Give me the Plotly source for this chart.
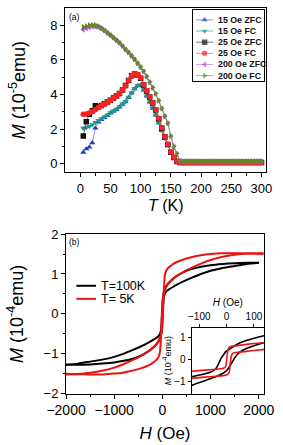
import plotly.graph_objects as go

# ---------------- Panel (a) data: M(T) curves ----------------
T = [5, 10, 15, 20, 25, 30, 35, 40, 45, 50, 55, 60, 65, 70, 75, 80, 85, 90, 95, 100,
     105, 110, 115, 120, 125, 130, 135, 140, 145, 150, 155, 160, 165, 170, 175, 180, 185, 190, 195, 200,
     205, 210, 215, 220, 225, 230, 235, 240, 245, 250, 255, 260, 265, 270, 275, 280, 285, 290, 295, 300]

M_15_ZFC = [0.65, 0.85, 0.95, 1.20, 2.05, 2.40, 2.55, 2.66, 2.78, 2.92, 3.02, 3.12, 3.27, 3.42, 3.57, 3.82, 4.07, 4.32, 4.50, 4.53,
            4.25, 3.90, 3.55, 3.20, 2.80, 2.35, 1.90, 1.45, 1.05, 0.70, 0.35, 0.15, 0.08, 0.08, 0.08, 0.08, 0.08, 0.08, 0.08, 0.08,
            0.08, 0.08, 0.08, 0.08, 0.08, 0.08, 0.08, 0.08, 0.08, 0.08, 0.08, 0.08, 0.08, 0.08, 0.08, 0.08, 0.08, 0.08, 0.08, 0.08]
M_15_FC = [2.05, 2.08, 2.15, 2.25, 2.38, 2.50, 2.60, 2.70, 2.82, 2.95, 3.05, 3.15, 3.30, 3.45, 3.60, 3.85, 4.10, 4.35, 4.52, 4.55,
           4.28, 3.92, 3.57, 3.22, 2.82, 2.37, 1.92, 1.47, 1.07, 0.72, 0.37, 0.16, 0.09, 0.09, 0.09, 0.09, 0.09, 0.09, 0.09, 0.09,
           0.09, 0.09, 0.09, 0.09, 0.09, 0.09, 0.09, 0.09, 0.09, 0.09, 0.09, 0.09, 0.09, 0.09, 0.09, 0.09, 0.09, 0.09, 0.09, 0.09]
M_25_ZFC = [1.60, 2.42, 2.85, 3.05, 3.35, 3.27, 3.36, 3.46, 3.56, 3.66, 3.79, 3.91, 4.06, 4.26, 4.51, 4.81, 5.08, 5.18, 5.13, 4.93,
            4.55, 4.20, 3.85, 3.50, 3.10, 2.60, 2.05, 1.55, 1.10, 0.65, 0.35, 0.12, 0.06, 0.06, 0.06, 0.06, 0.06, 0.06, 0.06, 0.06,
            0.06, 0.06, 0.06, 0.06, 0.06, 0.06, 0.06, 0.06, 0.06, 0.06, 0.06, 0.06, 0.06, 0.06, 0.06, 0.06, 0.06, 0.06, 0.06, 0.06]
M_25_FC = [2.85, 2.87, 2.92, 3.00, 3.12, 3.25, 3.35, 3.45, 3.55, 3.65, 3.78, 3.90, 4.05, 4.25, 4.50, 4.80, 5.08, 5.20, 5.15, 4.95,
           4.57, 4.22, 3.87, 3.52, 3.12, 2.62, 2.07, 1.57, 1.12, 0.67, 0.36, 0.13, 0.06, 0.06, 0.06, 0.06, 0.06, 0.06, 0.06, 0.06,
           0.06, 0.06, 0.06, 0.06, 0.06, 0.06, 0.06, 0.06, 0.06, 0.06, 0.06, 0.06, 0.06, 0.06, 0.06, 0.06, 0.06, 0.06, 0.06, 0.06]
M_200_ZFC = [7.75, 7.82, 7.88, 7.92, 7.92, 7.88, 7.80, 7.68, 7.54, 7.41, 7.26, 7.11, 6.96, 6.78, 6.58, 6.41, 6.21, 6.01, 5.78, 5.56,
             5.31, 5.01, 4.68, 4.36, 4.01, 3.61, 3.17, 2.72, 2.32, 1.55, 0.95, 0.55, 0.15, 0.12, 0.12, 0.12, 0.12, 0.12, 0.12, 0.12,
             0.12, 0.12, 0.12, 0.12, 0.12, 0.12, 0.12, 0.12, 0.12, 0.12, 0.12, 0.12, 0.12, 0.12, 0.12, 0.12, 0.12, 0.12, 0.12, 0.12]
M_200_FC = [7.90, 7.95, 8.00, 8.02, 8.00, 7.95, 7.85, 7.72, 7.58, 7.45, 7.30, 7.15, 7.00, 6.82, 6.62, 6.45, 6.25, 6.05, 5.82, 5.60,
            5.35, 5.05, 4.72, 4.40, 4.05, 3.65, 3.20, 2.75, 2.35, 1.60, 1.00, 0.58, 0.16, 0.13, 0.13, 0.13, 0.13, 0.13, 0.13, 0.13,
            0.13, 0.13, 0.13, 0.13, 0.13, 0.13, 0.13, 0.13, 0.13, 0.13, 0.13, 0.13, 0.13, 0.13, 0.13, 0.13, 0.13, 0.13, 0.13, 0.13]

series_names = ["15 Oe ZFC", "15 Oe FC", "25 Oe ZFC", "25 Oe FC", "200 Oe ZFC", "200 Oe FC"]
series_vals = [M_15_ZFC, M_15_FC, M_25_ZFC, M_25_FC, M_200_ZFC, M_200_FC]
series_cols = ["#1f3fc4", "#1e9a86", "#111111", "#ff2020", "#b04ee0", "#5f8a1c"]
series_line = ["rgba(90,110,230,0.7)", "rgba(40,160,140,0.7)", "rgba(60,60,60,0.7)",
               "rgba(255,90,90,0.7)", "rgba(190,110,235,0.7)", "rgba(110,150,50,0.7)"]
series_sym = ["triangle-up", "triangle-down", "square", "circle", "triangle-left", "triangle-right"]

# ---------------- Panel (b) data: M(H) loops ----------------
H_100_dn = [2000, 1750, 1500, 1250, 1000, 800, 600, 450, 300, 200, 120, 60, 30, 10, 0, -10, -20, -30, -50,
            -80, -120, -200, -300, -450, -600, -800, -1000, -1250, -1500, -1750, -2000]
M_100_dn = [1.28, 1.28, 1.27, 1.25, 1.22, 1.18, 1.12, 1.05, 0.95, 0.86, 0.76, 0.66, 0.55, 0.35, 0.15, -0.10, -0.30, -0.42, -0.50,
            -0.56, -0.60, -0.66, -0.73, -0.82, -0.90, -1.00, -1.08, -1.15, -1.20, -1.25, -1.28]
H_100_up = [-2000, -1750, -1500, -1250, -1000, -800, -600, -450, -300, -200, -120, -60, -30, -10, 0, 10, 20, 30, 50,
            80, 120, 200, 300, 450, 600, 800, 1000, 1250, 1500, 1750, 2000]
M_100_up = [-1.28, -1.28, -1.27, -1.25, -1.22, -1.18, -1.12, -1.05, -0.95, -0.86, -0.76, -0.66, -0.55, -0.35, -0.15, 0.10, 0.30, 0.42, 0.50,
            0.56, 0.60, 0.66, 0.73, 0.82, 0.90, 1.00, 1.08, 1.15, 1.20, 1.25, 1.28]

H_5_dn = [2100, 2000, 1750, 1500, 1250, 1000, 800, 600, 450, 300, 200, 120, 80, 50, 30, 15, 0, -15, -30,
          -60, -100, -200, -300, -450, -600, -800, -1000, -1250, -1500, -1750, -2000, -2100]
M_5_dn = [1.50, 1.505, 1.515, 1.52, 1.52, 1.50, 1.47, 1.42, 1.37, 1.30, 1.23, 1.15, 1.08, 0.95, 0.60, 0.10, -0.30, -0.45, -0.52,
          -0.62, -0.72, -0.85, -0.95, -1.06, -1.15, -1.26, -1.35, -1.43, -1.48, -1.51, -1.52, -1.52]
H_5_up = [-2100, -2000, -1750, -1500, -1250, -1000, -800, -600, -450, -300, -200, -120, -80, -50, -30, -15, 0, 15, 30,
          60, 100, 200, 300, 450, 600, 800, 1000, 1250, 1500, 1750, 2000, 2100]
M_5_up = [-1.50, -1.505, -1.515, -1.52, -1.52, -1.50, -1.47, -1.42, -1.37, -1.30, -1.23, -1.15, -1.08, -0.95, -0.60, -0.10, 0.30, 0.45, 0.52,
          0.62, 0.72, 0.85, 0.95, 1.06, 1.15, 1.26, 1.35, 1.43, 1.48, 1.51, 1.52, 1.52]

# inset (low-field detail)
Hi_100_dn = [140, 100, 67, 40, 24, 10, -3, -10, -20, -30, -41, -60, -90, -130]
Mi_100_dn = [1.11, 0.98, 0.86, 0.72, 0.59, 0.48, 0.37, 0.25, 0.07, -0.20, -0.44, -0.58, -0.68, -0.78]
Hi_100_up = [-130, -100, -63, -40, -20, 0, 8, 20, 29, 40, 51, 70, 89, 110, 140]
Mi_100_up = [-1.19, -1.05, -0.89, -0.78, -0.67, -0.50, -0.37, -0.12, 0.07, 0.25, 0.37, 0.50, 0.59, 0.68, 0.79]
Hi_5_dn = [140, 100, 60, 30, 15, 8, 3, 0, -3, -8, -15, -30, -60, -100, -130]
Mi_5_dn = [0.79, 0.74, 0.68, 0.63, 0.60, 0.55, 0.30, -0.05, -0.30, -0.37, -0.40, -0.43, -0.46, -0.50, -0.53]
Hi_5_up = [-130, -100, -60, -20, 0, 5, 10, 13, 16, 20, 24, 40, 67, 100, 140]
Mi_5_up = [-0.86, -0.82, -0.78, -0.74, -0.70, -0.66, -0.55, -0.20, 0.10, 0.25, 0.30, 0.34, 0.37, 0.42, 0.47]

loop_names = ["T=100K", "T= 5K"]
loop_cols = ["#000000", "#ee1111"]

FONT = "Arial, Liberation Sans, sans-serif"
W, H = 283, 445

def px(x):
    return x / W

def py(y):
    return 1 - y / H

fig = go.Figure()

# Panel (a) traces
for name, vals, col, lcol, sym in zip(series_names, series_vals, series_cols, series_line, series_sym):
    fig.add_trace(go.Scatter(x=T, y=vals, mode="lines+markers", name=name,
                             line=dict(color=lcol, width=1),
                             marker=dict(symbol=sym, size=5.5, color=col, line=dict(width=0)),
                             xaxis="x", yaxis="y", showlegend=False))

# Panel (a) legend drawn on its own small axes
for i, (name, col, lcol, sym) in enumerate(zip(series_names, series_cols, series_line, series_sym)):
    row = i + 1
    fig.add_trace(go.Scatter(x=[4, 13.5, 23], y=[row, row, row], mode="lines+markers",
                             line=dict(color=lcol, width=1),
                             marker=dict(symbol=sym, size=[0, 5.5, 0], color=col, line=dict(width=0)),
                             xaxis="x4", yaxis="y4", showlegend=False, hoverinfo="skip"))
    fig.add_annotation(x=26, y=row, xref="x4", yref="y4", text="<b>%s</b>" % name, showarrow=False,
                       xanchor="left", yanchor="middle", font=dict(family=FONT, size=8.8, color="#111"))

# Panel (b) traces
for hd, md, hu, mu, col in [(H_100_dn, M_100_dn, H_100_up, M_100_up, loop_cols[0]),
                            (H_5_dn, M_5_dn, H_5_up, M_5_up, loop_cols[1])]:
    fig.add_trace(go.Scatter(x=hd, y=md, mode="lines", line=dict(color=col, width=2, shape="spline", smoothing=0.6),
                             xaxis="x2", yaxis="y2", showlegend=False))
    fig.add_trace(go.Scatter(x=hu, y=mu, mode="lines", line=dict(color=col, width=2, shape="spline", smoothing=0.6),
                             xaxis="x2", yaxis="y2", showlegend=False))

# Inset traces
for hd, md, hu, mu, col in [(Hi_100_dn, Mi_100_dn, Hi_100_up, Mi_100_up, loop_cols[0]),
                            (Hi_5_dn, Mi_5_dn, Hi_5_up, Mi_5_up, loop_cols[1])]:
    fig.add_trace(go.Scatter(x=hd, y=md, mode="lines", line=dict(color=col, width=1.6, shape="spline", smoothing=0.6),
                             xaxis="x3", yaxis="y3", showlegend=False))
    fig.add_trace(go.Scatter(x=hu, y=mu, mode="lines", line=dict(color=col, width=1.6, shape="spline", smoothing=0.6),
                             xaxis="x3", yaxis="y3", showlegend=False))

# Panel (b) legend (line keys + labels)
for i, (name, col) in enumerate(zip(loop_names, loop_cols)):
    yk = 288.5 + 13.5 * i
    fig.add_shape(type="line", xref="paper", yref="paper", x0=px(63), x1=px(85), y0=py(yk), y1=py(yk),
                  line=dict(color=col, width=2))
    fig.add_annotation(x=px(88), y=py(yk), xref="paper", yref="paper", text=name, showarrow=False,
                       xanchor="left", yanchor="middle", font=dict(family=FONT, size=12.5, color="#000"))

tickfont = dict(family=FONT, size=13, color="#000")
titlefont = dict(family=FONT, size=16, color="#000")
ytitlefont = dict(family=FONT, size=18, color="#000")
common = dict(showline=True, linecolor="#000", linewidth=1, mirror=True, ticks="outside", ticklen=4,
              tickcolor="#000", showgrid=False, zeroline=False, tickfont=tickfont)

fig.update_layout(
    width=W, height=H, margin=dict(l=0, r=0, t=0, b=0),
    paper_bgcolor="white", plot_bgcolor="white", showlegend=False,
    font=dict(family=FONT, color="#000"),
    xaxis=dict(domain=[px(50.5), px(275.5)], anchor="y", range=[-25, 308], tickvals=[0, 50, 100, 150, 200, 250, 300],
               minor=dict(tickvals=[25, 75, 125, 175, 225, 275], ticklen=2.5, ticks="outside", tickcolor="#000"),
               title=dict(text="<i>T</i> (K)", font=titlefont, standoff=4), **common),
    yaxis=dict(domain=[py(171), py(1)], anchor="x", range=[-0.5, 9], tickvals=[0, 2, 4, 6, 8],
               minor=dict(tickvals=[1, 3, 5, 7], ticklen=2.5, ticks="outside", tickcolor="#000"),
               title=dict(text="<i>M</i> (10<sup>-5</sup>emu)", font=ytitlefont, standoff=20), **common),
    xaxis2=dict(domain=[px(51.5), px(273)], anchor="y2", range=[-2000, 2110], tickvals=[-2000, -1000, 0, 1000, 2000],
                minor=dict(tickvals=[-1500, -500, 500, 1500], ticklen=2.5, ticks="outside", tickcolor="#000"),
                title=dict(text="<i>H</i> (Oe)", font=dict(family=FONT, size=17, color="#000"), standoff=9),
                **{**common, "tickfont": dict(family=FONT, size=14, color="#000")}),
    yaxis2=dict(domain=[py(400), py(235)], anchor="x2", range=[-2, 2], tickvals=[-2, -1, 0, 1, 2],
                minor=dict(tickvals=[-1.5, -0.5, 0.5, 1.5], ticklen=2.5, ticks="outside", tickcolor="#000"),
                title=dict(text="<i>M</i> (10<sup>-4</sup>emu)", font=ytitlefont, standoff=15), **common),
    xaxis3=dict(domain=[px(192), px(273)], anchor="y3", side="top", range=[-128, 137], tickvals=[-100, 0, 100],
                showline=True, linecolor="#000", linewidth=1, mirror=True, ticks="outside", ticklen=3,
                tickcolor="#000", showgrid=False, zeroline=False, tickfont=dict(family=FONT, size=10, color="#000"),
                title=dict(text="<i>H</i> (Oe)", font=dict(family=FONT, size=10, color="#000"), standoff=2)),
    yaxis3=dict(domain=[py(400), py(332)], anchor="x3", range=[-1.55, 1.46], tickvals=[-1, 0, 1],
                showline=True, linecolor="#000", linewidth=1, mirror=True, ticks="outside", ticklen=3,
                tickcolor="#000", showgrid=False, zeroline=False, tickfont=dict(family=FONT, size=10, color="#000"),
                title=dict(text="<i>M</i> (10<sup>-4</sup>emu)", font=dict(family=FONT, size=9, color="#000"), standoff=1)),
    xaxis4=dict(domain=[px(193), px(273)], anchor="y4", range=[0, 80], showline=True, mirror=True, linecolor="#000",
                linewidth=1, showticklabels=False, ticks="", showgrid=False, zeroline=False, fixedrange=True),
    yaxis4=dict(domain=[py(77), py(3)], anchor="x4", range=[6.515, 0.108], showline=True, mirror=True, linecolor="#000",
                linewidth=1, showticklabels=False, ticks="", showgrid=False, zeroline=False, fixedrange=True),
)

fig.add_annotation(x=px(53), y=py(3), xref="paper", yref="paper", text="(a)", showarrow=False,
                   xanchor="left", yanchor="top", font=dict(family=FONT, size=8.5, color="#000"))
fig.add_annotation(x=px(53), y=py(236), xref="paper", yref="paper", text="(b)", showarrow=False,
                   xanchor="left", yanchor="top", font=dict(family=FONT, size=8.5, color="#000"))

fig.write_html("out.html", config={"displayModeBar": False},
               post_script="document.body.style.margin='0';document.body.style.overflow='hidden';")
